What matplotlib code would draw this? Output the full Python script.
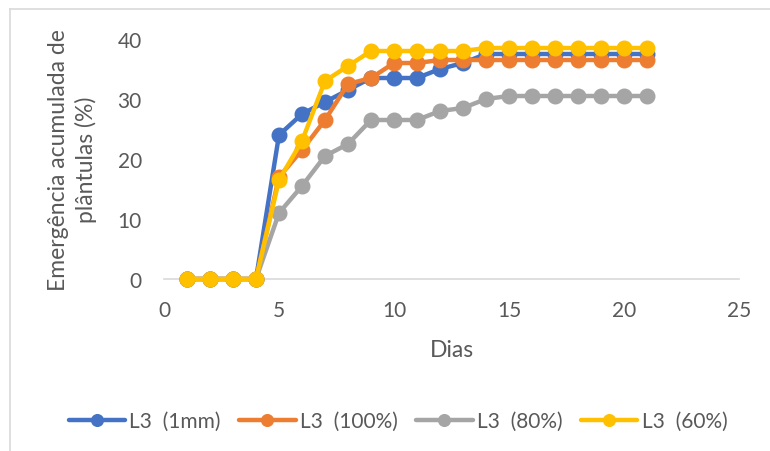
import matplotlib
matplotlib.use("Agg")
import matplotlib.pyplot as plt
from matplotlib.lines import Line2D

plt.rcParams['font.family'] = ['Lato', 'DejaVu Sans']

dias = list(range(1, 22))
l3_1mm = [0, 0, 0, 0, 24, 27.5, 29.5, 31.5, 33.5, 33.5, 33.5, 35, 36, 37.5, 37.5, 37.5, 37.5, 37.5, 37.5, 37.5, 37.5]
l3_100 = [0, 0, 0, 0, 17, 21.5, 26.5, 32.5, 33.5, 36, 36, 36.5, 36.5, 36.5, 36.5, 36.5, 36.5, 36.5, 36.5, 36.5, 36.5]
l3_80 = [0, 0, 0, 0, 11, 15.5, 20.5, 22.5, 26.5, 26.5, 26.5, 28, 28.5, 30, 30.5, 30.5, 30.5, 30.5, 30.5, 30.5, 30.5]
l3_60 = [0, 0, 0, 0, 16.5, 23, 33, 35.5, 38, 38, 38, 38, 38, 38.5, 38.5, 38.5, 38.5, 38.5, 38.5, 38.5, 38.5]

series = [
    ("L3  (1mm)", l3_1mm, "#4472C4"),
    ("L3  (100%)", l3_100, "#ED7D31"),
    ("L3  (80%)", l3_80, "#A5A5A5"),
    ("L3  (60%)", l3_60, "#FFC000"),
]

xticks = [0, 5, 10, 15, 20, 25]
yticks = [0, 10, 20, 30, 40]

W, H = 770, 452
fig = plt.figure(figsize=(W / 100, H / 100), dpi=100)
ax = fig.add_axes([164 / W, (H - 280) / H, 575 / W, 240 / H])

for name, vals, col in series:
    ax.plot(dias, vals, color=col, lw=3.2, marker='o', markersize=10.5,
            label=name, clip_on=False, solid_capstyle='round')

ax.set_xlim(0, 25)
ax.set_ylim(0, 40)
ax.set_xticks(xticks)
ax.set_yticks(yticks)
txt = "#595959"
ax.tick_params(axis='both', length=0, labelsize=15, labelcolor=txt)
ax.tick_params(axis='x', pad=15)
ax.tick_params(axis='y', pad=16)
for s in ['top', 'right', 'left']:
    ax.spines[s].set_visible(False)
ax.spines['bottom'].set_color('#D9D9D9')
ax.spines['bottom'].set_linewidth(1.2)
ax.spines['bottom'].set_zorder(0)

ax.set_xlabel("Dias", fontsize=16.5, color=txt, labelpad=14)
ax.set_ylabel("Emergência acumulada de\nplântulas (%)", fontsize=16.5, color=txt,
              labelpad=15, linespacing=1.3)

leg = fig.legend(loc='center', bbox_to_anchor=(398 / W, (H - 422) / H), ncol=4,
                 frameon=False, fontsize=15, handlelength=2.7, handletextpad=0.2,
                 columnspacing=0.9, labelcolor=txt, markerscale=0.8)

# chart border (partially cropped)
fig.add_artist(Line2D([10 / W, 10 / W], [0, 1 - 10 / H], color='#D9D9D9', lw=1.2, transform=fig.transFigure))
fig.add_artist(Line2D([10 / W, 1], [1 - 10 / H, 1 - 10 / H], color='#D9D9D9', lw=1.2, transform=fig.transFigure))

fig.savefig("out.png", dpi=100)
